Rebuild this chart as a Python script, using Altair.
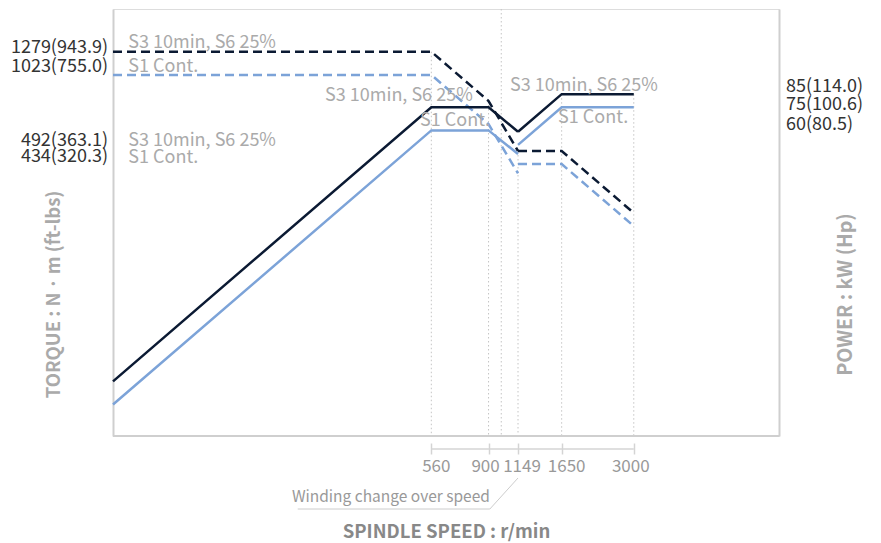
import altair as alt
import pandas as pd

# ---------------- data ----------------
# spindle speed break points (r/min)
w1_speed = [40, 560, 900, 1149]      # low winding
w2_speed = [1149, 1650, 3000]        # high winding
tick_values = [560, 900, 1149, 1650, 3000]
tick_labels = ["560", "900", "1149", "1650", "3000"]
winding_change = [1000]

# torque (N·m)
t_s3_w1 = [1279, 1279, 796, 492]
t_s1_w1 = [1023, 1023, 637, 397]
t_s3_w2 = [492, 492, 271]
t_s1_w2 = [434, 434, 239]

# power (kW)
p_s3_w1 = [5.36, 75, 75, 59.2]
p_s1_w1 = [4.29, 60, 60, 47.8]
p_s3_w2 = [59.2, 85, 85]
p_s1_w2 = [52.2, 75, 75]

# top of the dotted guide at each tick (torque scale)
grid_top = [1279, 796, 492, 850, 850]

# value labels
left_labels = ["1279(943.9)", "1023(755.0)", "492(363.1)", "434(320.3)"]
left_label_torque = [1320, 1107, 542, 466]
right_labels = ["85(114.0)", "75(100.6)", "60(80.5)"]
right_label_power = [91.5, 76.8, 63.4]

# curve annotations
ann_text = ["S3 10min, S6 25%", "S1 Cont.", "S3 10min, S6 25%", "S1 Cont.",
            "S3 10min, S6 25%", "S1 Cont.", "S3 10min, S6 25%", "S1 Cont."]
ann_speed = [45.4, 45.4, 45.4, 45.4, 232, 510, 1076, 1602]
ann_torque = [1395, 1107, 542, 458, 835, 657, 919, 674]

# callout for the winding change
callout_text = ["Winding change over speed"]
callout_speed = [1149, 910, 185]

# ---------------- style ----------------
FONT = "Noto Sans CJK KR"
DARK = "#0b1a33"
BLUE = "#7ca3d8"
W, H = 666, 427
tick_label_dx = [5, -3, 4, 5, -3]

x_scale = alt.Scale(type="log", domain=[40, 10000], nice=False)
yt_scale = alt.Scale(type="log", domain=[31.7, 1929], nice=False)
yp_scale = alt.Scale(type="log", domain=[3.17, 192.9], nice=False)

rows_t, rows_p = [], []
for name, duty, sp, vals in [("tS3w1", "S3", w1_speed, t_s3_w1), ("tS1w1", "S1", w1_speed, t_s1_w1),
                             ("tS3w2", "S3", w2_speed, t_s3_w2), ("tS1w2", "S1", w2_speed, t_s1_w2)]:
    for s, v in zip(sp, vals):
        rows_t.append({"speed": s, "torque": v, "series": name, "duty": duty})
for name, duty, sp, vals in [("pS3w1", "S3", w1_speed, p_s3_w1), ("pS1w1", "S1", w1_speed, p_s1_w1),
                             ("pS3w2", "S3", w2_speed, p_s3_w2), ("pS1w2", "S1", w2_speed, p_s1_w2)]:
    for s, v in zip(sp, vals):
        rows_p.append({"speed": s, "power": v, "series": name, "duty": duty})
torque_df = pd.DataFrame(rows_t)
power_df = pd.DataFrame(rows_p)

color = alt.Color("duty:N", scale=alt.Scale(domain=["S3", "S1"], range=[DARK, BLUE]), legend=None)

x_axis = alt.Axis(values=tick_values, labels=False,
                  tickColor="#d4d4d4", tickSize=11, tickWidth=1.5, offset=7, domain=False, grid=False,
                  title="SPINDLE SPEED : r/min", titleFont=FONT, titleFontSize=18.5, titleFontWeight="bold",
                  titleColor="#888888", titlePadding=68)


def X(field):
    return alt.X(field, scale=x_scale, axis=x_axis)


left_axis = alt.Axis(orient="left", labels=False, ticks=False, grid=False, domain=True,
                     domainColor="#cfcfcf", domainWidth=2,
                     title="TORQUE : N\u2009·\u2009m (ft-lbs)", titleFont=FONT, titleFontSize=18.5,
                     titleFontWeight="bold", titleColor="#aaaaaa", titleAngle=270,
                     titleX=-60, titleY=285, titleAlign="center", titleBaseline="middle")
right_axis = alt.Axis(orient="right", labels=False, ticks=False, grid=False, domain=True,
                      domainColor="#cfcfcf", domainWidth=2,
                      title="POWER : kW (Hp)", titleFont=FONT, titleFontSize=19.5,
                      titleFontWeight="bold", titleColor="#aaaaaa", titleAngle=270,
                      titleX=66, titleY=285, titleAlign="center", titleBaseline="middle")

grid = alt.Chart(pd.DataFrame({"speed": tick_values, "top": grid_top})).mark_rule(
    color="#c4c4c4", strokeDash=[1.5, 2.5], strokeWidth=1).encode(
    x=X("speed:Q"),
    y=alt.Y("top:Q", scale=yt_scale, axis=None),
    y2=alt.value(H))

wc_line = alt.Chart(pd.DataFrame({"speed": winding_change})).mark_rule(
    color="#c4c4c4", strokeDash=[1.5, 2.5], strokeWidth=1).encode(
    x=X("speed:Q"),
    y=alt.value(0), y2=alt.value(H))

bottom_border = alt.Chart(pd.DataFrame({"a": [0]})).mark_rule(color="#cfcfcf", strokeWidth=2).encode(
    x=alt.value(0), x2=alt.value(W), y=alt.value(H))

axis_line = alt.Chart(pd.DataFrame({"speed": [tick_values[0]], "s1": [tick_values[-1]]})).mark_rule(
    color="#d4d4d4", strokeWidth=1.5).encode(
    x=X("speed:Q"), x2="s1:Q", y=alt.value(H + 13))

tick_label_layers = []
for val, lab, dx in zip(tick_values, tick_labels, tick_label_dx):
    tick_label_layers.append(
        alt.Chart(pd.DataFrame({"speed": [val], "t": [lab]})).mark_text(
            font=FONT, fontSize=17, color="#999999", align="center", baseline="middle", dx=dx).encode(
            x=X("speed:Q"), y=alt.value(H + 31), text="t:N"))

torque_lines = alt.Chart(torque_df).mark_line(strokeWidth=2.5, strokeDash=[9, 5]).encode(
    x=X("speed:Q"),
    y=alt.Y("torque:Q", scale=yt_scale, axis=left_axis),
    color=color, detail="series:N")

power_lines = alt.Chart(power_df).mark_line(strokeWidth=2.5).encode(
    x=X("speed:Q"),
    y=alt.Y("power:Q", scale=yp_scale, axis=right_axis),
    color=color, detail="series:N")

left_lab = alt.Chart(pd.DataFrame({"t": left_labels, "v": left_label_torque})).mark_text(
    font=FONT, fontSize=18, color="#333333", align="right", baseline="middle").encode(
    x=alt.value(-5), y=alt.Y("v:Q", scale=yt_scale, axis=None), text="t:N")

right_lab = alt.Chart(pd.DataFrame({"t": right_labels, "v": right_label_power})).mark_text(
    font=FONT, fontSize=18, color="#333333", align="left", baseline="middle").encode(
    x=alt.value(W + 7), y=alt.Y("v:Q", scale=yp_scale, axis=None), text="t:N")

ann = alt.Chart(pd.DataFrame({"t": ann_text, "speed": ann_speed, "v": ann_torque})).mark_text(
    font=FONT, fontSize=18, color="#aaaaaa", align="left", baseline="middle").encode(
    x=X("speed:Q"), y=alt.Y("v:Q", scale=yt_scale, axis=None), text="t:N")

callout_line = alt.Chart(pd.DataFrame({"speed": callout_speed, "py": [H + 42, H + 73, H + 73], "o": [0, 1, 2]})).mark_line(
    color="#cccccc", strokeWidth=1).encode(
    x=X("speed:Q"), y=alt.Y("py:Q", scale=None), order="o:Q")

callout_lab = alt.Chart(pd.DataFrame({"t": callout_text, "speed": [callout_speed[1]]})).mark_text(
    font=FONT, fontSize=15.5, color="#999999", align="right", baseline="middle").encode(
    x=X("speed:Q"), y=alt.value(H + 61), text="t:N")

chart = alt.layer(
    grid, wc_line, bottom_border, axis_line, *tick_label_layers, torque_lines, power_lines,
    left_lab, right_lab, ann, callout_line, callout_lab
).resolve_scale(y="independent").properties(
    width=W, height=H, padding={"left": 2, "top": 0, "right": 0, "bottom": 0}
).configure_view(fill="#efefef", stroke=None).configure(background="white")

chart.save("out.html", embed_options={"renderer": "svg", "actions": False})
